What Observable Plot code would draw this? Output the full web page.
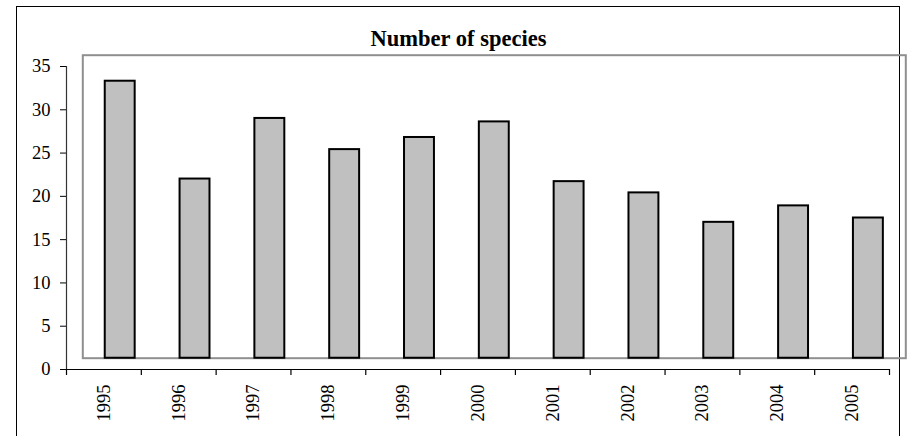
<!DOCTYPE html>
<html>
<head>
<meta charset="utf-8">
<script src="https://cdn.jsdelivr.net/npm/d3@7"></script>
<script src="https://cdn.jsdelivr.net/npm/@observablehq/plot@0.6"></script>
<style>
  html, body { margin: 0; padding: 0; background: #fff; overflow: hidden; }
  #wrap { position: relative; width: 913px; height: 436px; font-family: "Liberation Serif", "Times New Roman", serif; }
  #border { position: absolute; left: 16px; top: 6px; width: 884px; height: 450px; border: 1.5px solid #000; box-sizing: border-box; }
  #title { position: absolute; left: 0; width: 917px; top: 27px; text-align: center; font-weight: bold; font-size: 22.5px; line-height: 24px; color: #000; }
  #chart { position: absolute; left: 0; top: 0; }
</style>
</head>
<body>
<div id="wrap">
  <div id="border"></div>
  <div id="chart"></div>
  <div id="title">Number of species</div>
</div>
<script>
// Data
const years = ["1995", "1996", "1997", "1998", "1999", "2000", "2001", "2002", "2003", "2004", "2005"];
const species = [33.3, 22.0, 29.0, 25.4, 26.8, 28.6, 21.7, 20.4, 17.0, 18.9, 17.5];
const yTicks = [0, 5, 10, 15, 20, 25, 30, 35];

const data = years.map((y, i) => ({year: y, value: species[i]}));

const W = 913, H = 436;
const mL = 66, mR = 24, mT = 66, mB = 67;
const step = (W - mL - mR) / years.length;
// plot area drawn shifted (as in the reference)
const shiftX = 16.3, shiftY = -11.3;
const floorValue = 1.3; // value where the shifted plot floor sits

const chart = Plot.plot({
  width: W,
  height: H,
  marginLeft: mL,
  marginRight: mR,
  marginTop: mT,
  marginBottom: mB,
  style: {fontFamily: "'Liberation Serif', 'Times New Roman', serif", fontSize: "18.5px", color: "#000", background: "transparent"},
  x: {type: "band", domain: years, paddingInner: 0.6, paddingOuter: 0.3, round: false},
  y: {domain: [0, 35]},
  marks: [
    Plot.frame({stroke: "#8f8f8f", strokeWidth: 2, dx: shiftX, dy: shiftY}),
    Plot.barY(data, {x: "year", y1: floorValue, y2: "value", fill: "#c0c0c0", stroke: "#000", strokeWidth: 2, dx: shiftX}),
    Plot.axisY({ticks: yTicks, tickSize: 6, tickPadding: 10, label: null, stroke: "#000"}),
    Plot.axisX({tickSize: 0, tickPadding: 15, tickRotate: -90, label: null}),
    Plot.ruleY([0], {stroke: "#000", strokeWidth: 1.2}),
    // y axis line at the left edge of the first category
    Plot.ruleX([years[0]], {dx: -step / 2, y1: 0, y2: 35, stroke: "#333", strokeWidth: 1.2}),
    // tick marks between categories
    Plot.ruleX(years, {x: d => d, dx: -step / 2, y1: 0, y2: 0, insetBottom: -6, stroke: "#000", strokeWidth: 1.2}),
    Plot.ruleX([years[years.length - 1]], {dx: step / 2, y1: 0, y2: 0, insetBottom: -6, stroke: "#000", strokeWidth: 1.2})
  ]
});
document.getElementById("chart").appendChild(chart);
</script>
</body>
</html>
